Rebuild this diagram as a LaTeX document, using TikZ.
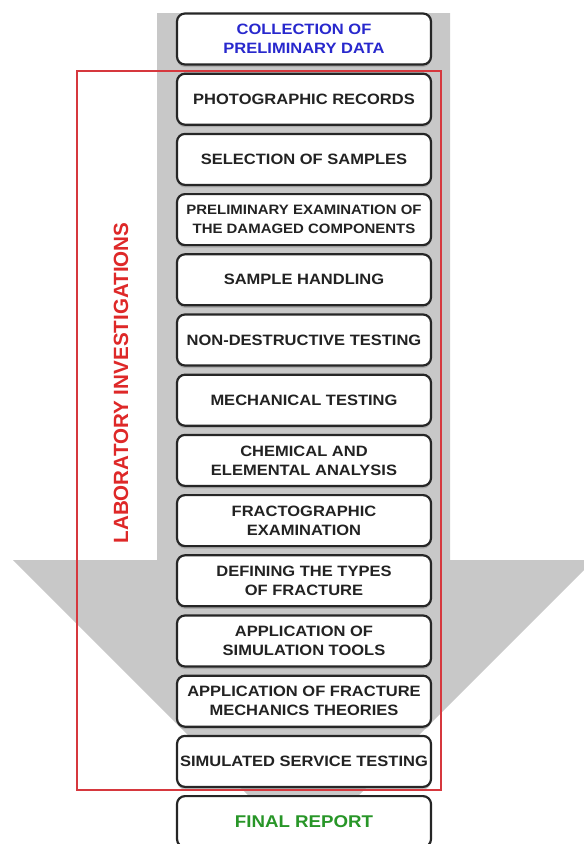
\documentclass[tikz,border=0pt]{standalone}
\usepackage{fontspec}
\setmainfont{Liberation Sans}
\newfontfamily\boxfont{Liberation Sans}[FakeStretch=1.1]
\usetikzlibrary{shadows}
\definecolor{arrowgray}{RGB}{200,200,200}
\definecolor{labred}{RGB}{222,40,40}
\definecolor{rectred}{RGB}{214,56,62}
\definecolor{stageblue}{RGB}{40,40,205}
\definecolor{stagegreen}{RGB}{40,150,40}
\definecolor{stagetext}{RGB}{34,34,34}
\begin{document}
\begin{tikzpicture}[x=1pt,y=-1pt,
  stage/.style={draw=black!85, line width=2.2pt, rounded corners=8pt, fill=white,
    minimum width=254pt, minimum height=51pt, inner sep=0pt, align=center,
    font=\boxfont\bfseries\fontsize{15}{19}\selectfont, text=stagetext,
    drop shadow={shadow xshift=0pt, shadow yshift=-2.5pt, fill=black!40, opacity=0.6}},
  smallstage/.style={stage, font=\boxfont\bfseries\fontsize{13.6}{19}\selectfont},
  finalstage/.style={stage, text=stagegreen, font=\boxfont\bfseries\fontsize{17}{19}\selectfont},
  labframe/.style={draw=rectred, line width=1.8pt},
  lablabel/.style={rotate=90, text=labred, font=\bfseries\fontsize{20.6}{24}\selectfont}]
\useasboundingbox (0,0) rectangle (584,844);
\fill[arrowgray] (157,13) -- (450,13) -- (450,560) -- (594,560) -- (303.5,850.5)
  -- (13,560) -- (157,560) -- cycle;
\node[stage, text=stageblue] (s1) at (304,39.0) {COLLECTION OF\\PRELIMINARY DATA};
\node[stage] (s2) at (304,99.2) {PHOTOGRAPHIC RECORDS};
\node[stage] (s3) at (304,159.4) {SELECTION OF SAMPLES};
\node[smallstage] (s4) at (304,219.6) {PRELIMINARY EXAMINATION OF\\THE DAMAGED COMPONENTS};
\node[stage] (s5) at (304,279.8) {SAMPLE HANDLING};
\node[stage] (s6) at (304,340.0) {NON-DESTRUCTIVE TESTING};
\node[stage] (s7) at (304,400.2) {MECHANICAL TESTING};
\node[stage] (s8) at (304,460.4) {CHEMICAL AND\\ELEMENTAL ANALYSIS};
\node[stage] (s9) at (304,520.6) {FRACTOGRAPHIC\\EXAMINATION};
\node[stage] (s10) at (304,580.8) {DEFINING THE TYPES\\OF FRACTURE};
\node[stage] (s11) at (304,641.0) {APPLICATION OF\\SIMULATION TOOLS};
\node[stage] (s12) at (304,701.2) {APPLICATION OF FRACTURE\\MECHANICS THEORIES};
\node[stage] (s13) at (304,761.4) {SIMULATED SERVICE TESTING};
\node[finalstage] (s14) at (304,821.6) {FINAL REPORT};
\draw[labframe] (77,71) rectangle (441,790);
\node[lablabel] (lab) at (121,383) {LABORATORY INVESTIGATIONS};
\end{tikzpicture}
\end{document}
